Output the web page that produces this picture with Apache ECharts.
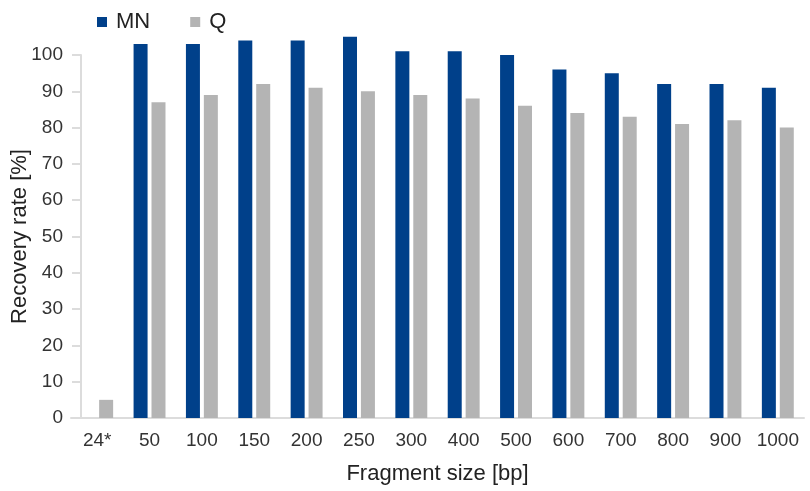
<!DOCTYPE html>
<html>
<head>
<meta charset="utf-8">
<script src="https://cdn.jsdelivr.net/npm/echarts@6/dist/echarts.min.js"></script>
<style>
  html, body { margin: 0; padding: 0; background: #fff; }
  #chart { width: 810px; height: 491px; }
</style>
</head>
<body>
<div id="chart"></div>
<script type="text/javascript">
	// fragment sizes (bp), first one is the 24* marker
	var categories = ['24*', '50', '100', '150', '200', '250', '300', '400', '500', '600', '700', '800', '900', '1000'];
	// recovery rate [%]
	var mnValues = [null, 103, 103, 104, 104, 105, 101, 101, 100, 96, 95, 92, 92, 91];
	var qValues = [5, 87, 89, 92, 91, 90, 89, 88, 86, 84, 83, 81, 82, 80];

	var fontName = 'Liberation Sans';
	var blue = '#00408a';
	var grey = '#b4b4b4';
	var axisGrey = '#dcdcdc';

	var myChart = echarts.init(document.getElementById('chart'));
	var option = {
		animation: false,
		textStyle: { fontFamily: fontName },
		legend: {
			data: ['MN', 'Q'],
			left: 92,
			top: 6,
			icon: 'rect',
			itemWidth: 10,
			itemHeight: 10,
			itemGap: 40,
			textStyle: { fontSize: 22, color: '#222', padding: [0, 0, 0, 4], fontFamily: fontName }
		},
		grid: { left: 71, right: 6, top: 55, bottom: 73, containLabel: false, outerBoundsMode: 'none' },
		xAxis: {
			type: 'category',
			data: categories,
			name: 'Fragment size [bp]',
			nameLocation: 'middle',
			nameGap: 45,
			nameMoveOverlap: false,
			nameTextStyle: { fontSize: 22, color: '#222', fontFamily: fontName },
			axisLine: { lineStyle: { color: axisGrey, width: 2 } },
			axisTick: { interval: 0, length: 6, lineStyle: { color: axisGrey, width: 2 } },
			axisLabel: { interval: 0, fontSize: 19, color: '#333', margin: 13, fontFamily: fontName }
		},
		yAxis: {
			type: 'value',
			min: 0,
			max: 100,
			interval: 10,
			offset: -10,
			name: 'Recovery rate [%]',
			nameLocation: 'middle',
			nameGap: 50,
			nameMoveOverlap: false,
			nameTextStyle: { fontSize: 22, color: '#222', fontFamily: fontName },
			axisLine: { show: true, lineStyle: { color: axisGrey, width: 2 } },
			axisTick: { show: true, length: 9, lineStyle: { color: axisGrey, width: 2 } },
			axisLabel: { fontSize: 19, color: '#333', margin: 18, fontFamily: fontName },
			splitLine: { show: false }
		},
		series: [{
			name: 'MN',
			type: 'bar',
			data: mnValues,
			barWidth: 14,
			barGap: '28%',
			clip: false,
			itemStyle: { color: blue }
		}, {
			name: 'Q',
			type: 'bar',
			data: qValues,
			barWidth: 14,
			barGap: '28%',
			clip: false,
			itemStyle: { color: grey }
		}]
	};
	myChart.setOption(option);
</script>
</body>
</html>
